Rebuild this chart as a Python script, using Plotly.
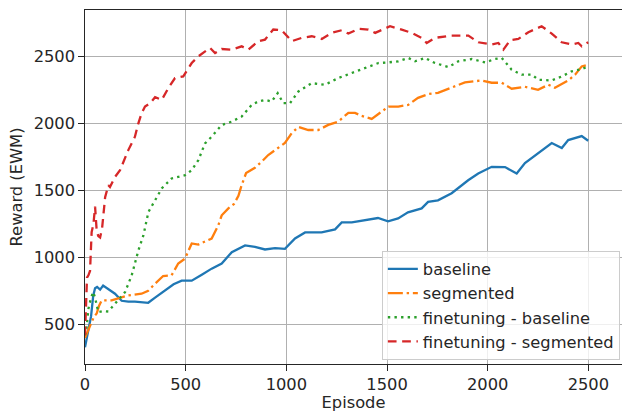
import plotly.graph_objects as go

# ---- data ----
base_ep = [0, 10, 20, 30, 41, 50, 60, 75, 90, 120, 149, 182, 215, 248, 281, 314, 348, 397, 440, 480,
           530, 580, 629, 679, 729, 795, 844, 894, 944, 993, 1043, 1093, 1175, 1242, 1275, 1325, 1391,
           1455, 1505, 1555, 1604, 1672, 1704, 1753, 1821, 1854, 1903, 1953, 2020, 2086, 2144, 2185,
           2250, 2318, 2368, 2400, 2467, 2499]
base_val = [330, 400, 470, 560, 717, 770, 780, 760, 790, 760, 730, 677, 670, 670, 665, 662, 700, 752,
            800, 827, 827, 872, 917, 955, 1040, 1090, 1080, 1060, 1070, 1065, 1142, 1187, 1187, 1210,
            1262, 1262, 1277, 1295, 1270, 1292, 1337, 1367, 1415, 1427, 1480, 1520, 1577, 1627, 1677,
            1675, 1627, 1705, 1780, 1855, 1817, 1877, 1907, 1872]

seg_ep = [0, 15, 33, 45, 58, 70, 83, 132, 165, 215, 281, 314, 348, 388, 430, 463, 497, 530, 563, 629,
          662, 679, 712, 740, 762, 778, 800, 844, 877, 910, 944, 993, 1027, 1060, 1109, 1159, 1208, 1258,
          1308, 1341, 1374, 1424, 1474, 1507, 1556, 1605, 1654, 1704, 1753, 1821, 1887, 1970, 2020,
          2070, 2119, 2185, 2250, 2301, 2334, 2400, 2434, 2467, 2499]
seg_val = [400, 450, 517, 560, 582, 640, 680, 680, 695, 717, 730, 752, 805, 862, 867, 955, 992, 1105,
           1097, 1142, 1240, 1315, 1367, 1400, 1460, 1540, 1630, 1670, 1715, 1765, 1802, 1855, 1930, 1975,
           1952, 1952, 1990, 2015, 2080, 2080, 2057, 2035, 2090, 2127, 2127, 2140, 2192, 2220, 2230,
           2267, 2307, 2322, 2305, 2305, 2260, 2275, 2252, 2290, 2267, 2322, 2365, 2427, 2440]

ftb_ep = [0, 8, 17, 30, 41, 50, 66, 90, 116, 140, 165, 199, 232, 248, 265, 290, 315, 348, 381, 397, 430,
          497, 530, 563, 596, 629, 679, 729, 778, 828, 861, 894, 927, 957, 985, 1018, 1060, 1126, 1192,
          1258, 1325, 1391, 1457, 1507, 1556, 1606, 1639, 1689, 1738, 1805, 1854, 1921, 1987, 2036, 2070,
          2119, 2169, 2219, 2252, 2318, 2368, 2417, 2467, 2499]
ftb_val = [420, 480, 617, 700, 742, 700, 592, 600, 597, 640, 680, 742, 867, 967, 1052, 1165, 1340, 1427,
           1515, 1540, 1590, 1615, 1652, 1727, 1852, 1902, 1990, 2015, 2052, 2140, 2165, 2177, 2165, 2227,
           2152, 2152, 2240, 2302, 2290, 2340, 2377, 2415, 2452, 2457, 2465, 2490, 2465, 2490, 2452, 2422,
           2465, 2482, 2457, 2482, 2490, 2402, 2365, 2365, 2327, 2322, 2352, 2390, 2407, 2427]

fts_ep = [0, 5, 10, 17, 25, 33, 42, 50, 58, 66, 75, 85, 100, 116, 124, 149, 174, 215, 248, 265, 281, 298,
          323, 348, 381, 414, 447, 488, 530, 563, 596, 621, 646, 679, 729, 778, 811, 844, 861, 894, 935,
          977, 1027, 1076, 1126, 1176, 1225, 1275, 1308, 1358, 1407, 1441, 1474, 1515, 1573, 1623, 1672,
          1697, 1738, 1821, 1904, 1953, 2020, 2053, 2078, 2111, 2152, 2202, 2268, 2318, 2368, 2417, 2450,
          2467, 2499]
fts_val = [420, 700, 850, 867, 900, 1190, 1250, 1380, 1200, 1160, 1150, 1220, 1450, 1540, 1527, 1602,
           1652, 1802, 1902, 2002, 2077, 2127, 2152, 2197, 2177, 2265, 2340, 2352, 2452, 2502, 2540, 2565,
           2527, 2557, 2552, 2577, 2552, 2590, 2615, 2627, 2702, 2697, 2615, 2640, 2652, 2632, 2677, 2697,
           2672, 2707, 2702, 2677, 2702, 2727, 2702, 2677, 2640, 2602, 2640, 2657, 2657, 2607, 2590, 2602,
           2552, 2622, 2632, 2682, 2727, 2672, 2607, 2590, 2602, 2577, 2607]

x_ticks = [0, 500, 1000, 1500, 2000, 2500]
y_ticks = [500, 1000, 1500, 2000, 2500]

FONT = "DejaVu Sans"
FS = 16.3
LW = 2.3

fig = go.Figure()
fig.add_trace(go.Scatter(x=base_ep, y=base_val, mode="lines", name="baseline",
                         line=dict(color="#1f77b4", width=LW)))
fig.add_trace(go.Scatter(x=seg_ep, y=seg_val, mode="lines", name="segmented",
                         line=dict(color="#ff7f0e", width=LW, dash="15px,3.8px,2.4px,3.8px")))
fig.add_trace(go.Scatter(x=ftb_ep, y=ftb_val, mode="lines", name="finetuning - baseline",
                         line=dict(color="#2ca02c", width=LW, dash="2.4px,4.2px")))
fig.add_trace(go.Scatter(x=fts_ep, y=fts_val, mode="lines", name="finetuning - segmented",
                         line=dict(color="#d62728", width=LW, dash="8.7px,5.6px")))

axis_common = dict(
    showgrid=True, gridcolor="#b0b0b0", gridwidth=1.2,
    zeroline=False, showline=True, linecolor="#262626", linewidth=1.3,
    ticks="outside", ticklen=5.5, tickwidth=1.2, tickcolor="#262626",
    tickfont=dict(family=FONT, size=FS, color="#262626"),
    automargin=False,
)

fig.update_layout(
    width=622, height=412,
    margin=dict(l=85, r=0, t=10, b=48),
    paper_bgcolor="white", plot_bgcolor="white",
    font=dict(family=FONT, size=FS, color="#262626"),
    showlegend=True,
    legend=dict(
        x=0.996, y=0.012, xanchor="right", yanchor="bottom",
        bgcolor="rgba(255,255,255,0.8)", bordercolor="#cccccc", borderwidth=1,
        font=dict(family=FONT, size=FS, color="#262626"),
        tracegroupgap=0,
    ),
    xaxis=dict(range=[0, 2667], tickvals=x_ticks, mirror=True,
               title=dict(text="Episode", font=dict(family=FONT, size=FS), standoff=2),
               **axis_common),
    yaxis=dict(range=[205, 2848], tickvals=y_ticks,
               title=dict(text="Reward (EWM)", font=dict(family=FONT, size=FS), standoff=6),
               **axis_common),
)

fig.write_html("out.html")
